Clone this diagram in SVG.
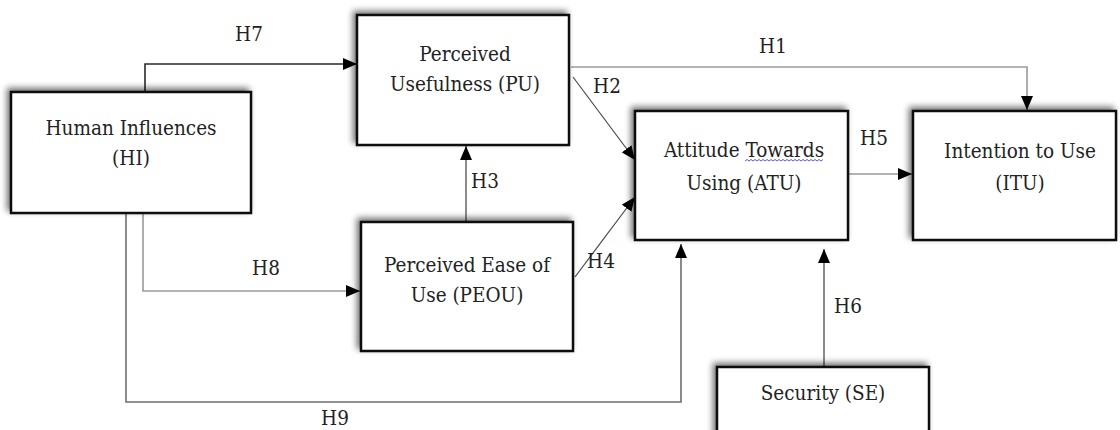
<svg xmlns="http://www.w3.org/2000/svg" width="1120" height="430" viewBox="0 0 1120 430">
  <defs>
    <filter id="shade" x="-20%" y="-20%" width="140%" height="140%">
      <feGaussianBlur in="SourceAlpha" stdDeviation="3"/>
      <feOffset dx="-3" dy="-3" result="b"/>
      <feComponentTransfer><feFuncA type="linear" slope="0.55"/></feComponentTransfer>
      <feMerge><feMergeNode/><feMergeNode in="SourceGraphic"/></feMerge>
    </filter>
    <marker id="arrow" viewBox="0 0 14 12" refX="14" refY="6" markerWidth="14" markerHeight="12" markerUnits="userSpaceOnUse" orient="auto">
      <path d="M0,0 L14,6 L0,12 Z" fill="#000"/>
    </marker>
    <style>
      .box { fill: #fff; stroke: #111; stroke-width: 2.5; }
      .lbl { font-size: 20.5px; fill: #222; text-anchor: middle; }
      .edge { fill: none; stroke: #6e6e6e; stroke-width: 1.6; marker-end: url(#arrow); }
      .dark { stroke: #2a2a2a; }
      .pale { stroke: #9a9a9a; }
      .thin { stroke: #4a4a4a; stroke-width: 1.2; }
    </style>
  </defs>
  <rect width="1120" height="430" fill="#fff"/>

  <g id="connectors">
    <path id="h7" class="edge dark" d="M145,92 V64 H357"/>
    <path id="h1" class="edge pale" d="M571,67 H1027 V110"/>
    <path id="h2" class="edge thin" d="M573,77 L635,160"/>
    <path id="h3" class="edge" d="M466,222 V146"/>
    <path id="h4" class="edge thin" d="M575,277 L635,197"/>
    <path id="h5" class="edge pale" d="M849,174 H912"/>
    <path id="h6" class="edge" d="M824,367 V249"/>
    <path id="h8" class="edge pale" d="M143,213 V291 H360"/>
    <path id="h9" class="edge" d="M126,213 V402 H681 V244"/>
  </g>

  <g font-family="DejaVu Serif Condensed, DejaVu Serif, serif" font-stretch="condensed">
  <g id="edge-labels">
    <text class="lbl" x="249" y="41">H7</text>
    <text class="lbl" x="773" y="53">H1</text>
    <text class="lbl" x="607" y="93">H2</text>
    <text class="lbl" x="485" y="188">H3</text>
    <text class="lbl" x="601" y="268">H4</text>
    <text class="lbl" x="874" y="145">H5</text>
    <text class="lbl" x="848" y="313">H6</text>
    <text class="lbl" x="266" y="275">H8</text>
    <text class="lbl" x="335" y="425">H9</text>
  </g>

  <g id="node-hi" filter="url(#shade)">
    <rect class="box" x="11" y="92" width="240" height="121"/>
  </g>
  <g id="node-hi-text">
    <text class="lbl" x="131" y="135">Human Influences</text>
    <text class="lbl" x="131" y="165">(HI)</text>
  </g>

  <g id="node-pu" filter="url(#shade)">
    <rect class="box" x="357" y="15" width="212" height="130"/>
  </g>
  <g id="node-pu-text">
    <text class="lbl" x="465" y="61">Perceived</text>
    <text class="lbl" x="465" y="91">Usefulness (PU)</text>
  </g>

  <g id="node-peou" filter="url(#shade)">
    <rect class="box" x="361" y="222" width="212" height="129"/>
  </g>
  <g id="node-peou-text">
    <text class="lbl" x="467" y="272">Perceived Ease of</text>
    <text class="lbl" x="467" y="302">Use (PEOU)</text>
  </g>

  <g id="node-atu" filter="url(#shade)">
    <rect class="box" x="635" y="111" width="213" height="129"/>
  </g>
  <g id="node-atu-text">
    <text class="lbl" x="744" y="157">Attitude Towards</text>
    <text class="lbl" x="744" y="190">Using (ATU)</text>
    <!-- spell-check squiggle under "Towards" -->
    <path d="M745,161 l2,-1.5 l2,1.5 l2,-1.5 l2,1.5 l2,-1.5 l2,1.5 l2,-1.5 l2,1.5 l2,-1.5 l2,1.5 l2,-1.5 l2,1.5 l2,-1.5 l2,1.5 l2,-1.5 l2,1.5 l2,-1.5 l2,1.5 l2,-1.5 l2,1.5 l2,-1.5 l2,1.5 l2,-1.5 l2,1.5 l2,-1.5 l2,1.5 l2,-1.5 l2,1.5 l2,-1.5 l2,1.5 l2,-1.5 l2,1.5 l2,-1.5 l2,1.5 l2,-1.5 l2,1.5 l2,-1.5 l2,1.5 l2,-1.5" fill="none" stroke="#5a5ad8" stroke-width="1"/>
  </g>

  <g id="node-itu" filter="url(#shade)">
    <rect class="box" x="913" y="111" width="203" height="129"/>
  </g>
  <g id="node-itu-text">
    <text class="lbl" x="1020" y="158">Intention to Use</text>
    <text class="lbl" x="1020" y="190">(ITU)</text>
  </g>

  <g id="node-se" filter="url(#shade)">
    <rect class="box" x="717" y="367" width="212" height="80"/>
  </g>
  <g id="node-se-text">
    <text class="lbl" x="823" y="400">Security (SE)</text>
  </g>
  </g>
</svg>
